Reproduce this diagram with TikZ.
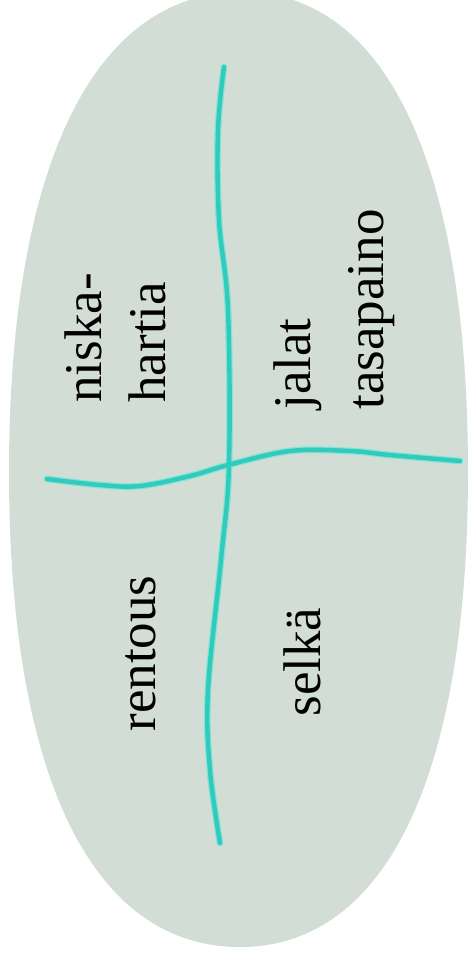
\documentclass[tikz,border=0pt]{standalone}
\usepackage{fontspec}
\setmainfont{Liberation Serif}
\usepackage{xcolor}
\definecolor{oval}{RGB}{210,221,214}
\definecolor{pen}{RGB}{50,203,187}
\definecolor{penglow}{RGB}{130,228,219}

\begin{document}
\begin{tikzpicture}[x=0.5pt, y=-0.5pt,
  lbl/.style={rotate=90, inner sep=0pt, font=\fontsize{26.5}{32}\selectfont, align=left},
  glow/.style={line width=3.4pt, color=penglow, line cap=round, line join=round},
  ink/.style={line width=2.2pt, color=pen, line cap=round, line join=round}]
  \useasboundingbox (0,0) rectangle (473,958);
  % the oval
  \fill[oval] (242,-8) .. controls (387,-8) and (468,167) .. (468,472)
    .. controls (468,776) and (386,947) .. (240,947)
    .. controls (92,947) and (9,776) .. (9,472)
    .. controls (9,167) and (93,-8) .. (242,-8) -- cycle;
  % cross
  \foreach \s in {glow, ink} {
    \draw[\s] plot[smooth, tension=0.6] coordinates {(224,67) (218,130) (219,220) (228,310)
      (229,465) (221,560) (208,690) (210,770) (220,843)};
    \draw[\s] plot[smooth, tension=0.6] coordinates {(47,479) (100,485) (140,486) (190,476)
      (228,465) (290,451) (350,451) (390,455) (460,461)};
  }
  % labels
  \node[lbl, anchor=north west] (niska) at (64,403) {niska-\\hartia};
  \node[lbl, anchor=north west, font=\fontsize{26.5}{36.5}\selectfont] (jalat) at (273,410) {jalat\\tasapaino};
  \node[lbl, anchor=base west] (rentous) at (155,732) {rentous};
  \node[lbl, anchor=base west] (selka) at (320,717) {selkä};
\end{tikzpicture}
\end{document}
